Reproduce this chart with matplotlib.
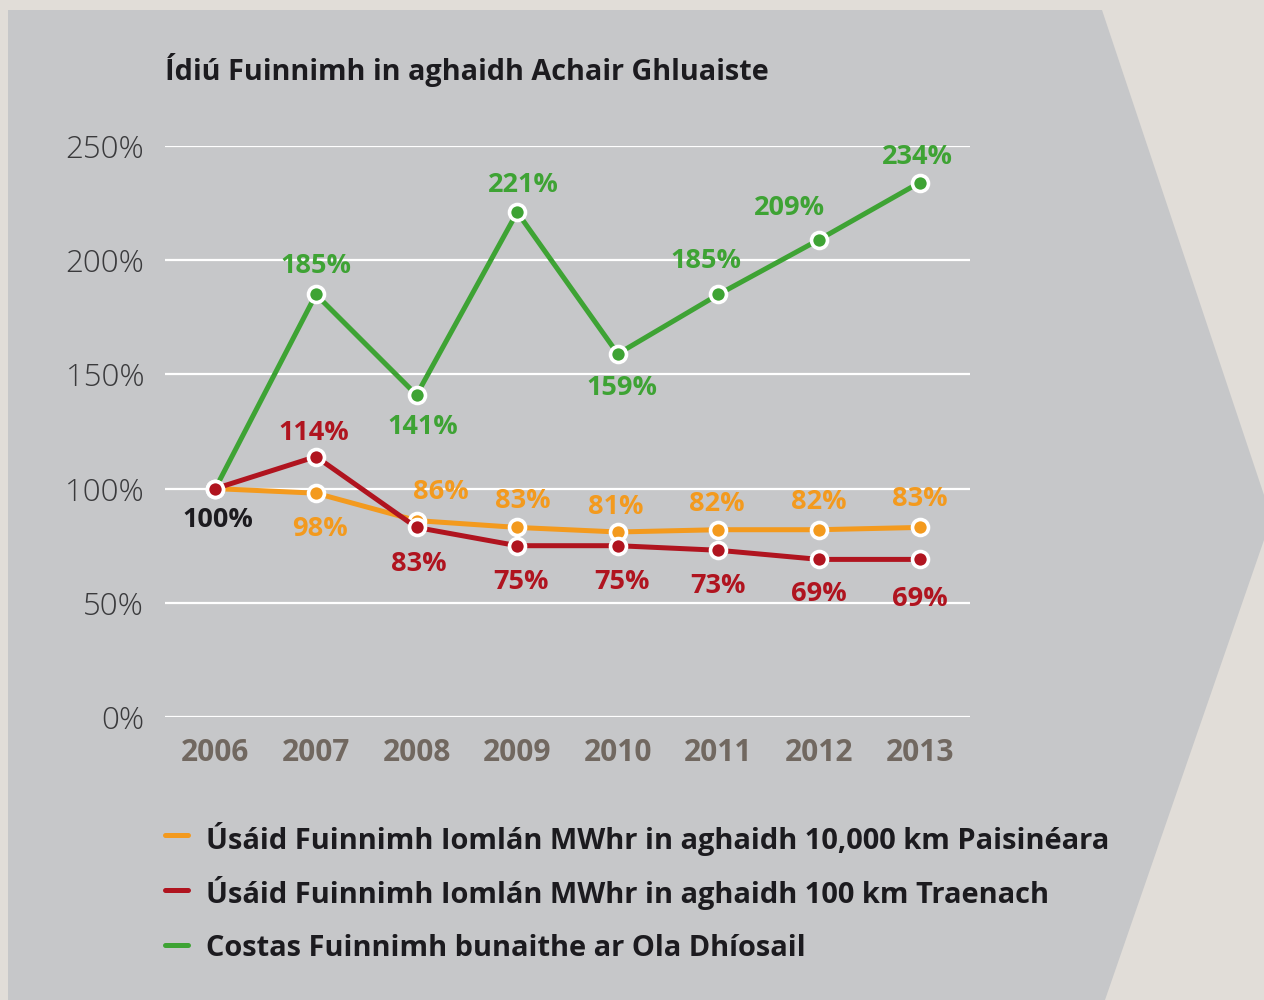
import matplotlib
matplotlib.use("Agg")
import matplotlib.pyplot as plt
from matplotlib.patches import Polygon
from matplotlib.lines import Line2D

# ---- data ----
years = [2006, 2007, 2008, 2009, 2010, 2011, 2012, 2013]
passenger = [100, 98, 86, 83, 81, 82, 82, 83]    # MWhr / 10,000 km paisinéara
train = [100, 114, 83, 75, 75, 73, 69, 69]       # MWhr / 100 km traenach
diesel_cost = [100, 185, 141, 221, 159, 185, 209, 234]

series_names = [
    "Úsáid Fuinnimh Iomlán MWhr in aghaidh 10,000 km Paisinéara",
    "Úsáid Fuinnimh Iomlán MWhr in aghaidh 100 km Traenach",
    "Costas Fuinnimh bunaithe ar Ola Dhíosail",
]
title = "Ídiú Fuinnimh in aghaidh Achair Ghluaiste"
yticks = [0, 50, 100, 150, 200, 250]

ORANGE = "#f39a1e"
RED = "#b0141f"
GREEN = "#3ea334"
DARK = "#1c1b1f"

# label offsets in pixels (dx, dy); None = no label
off_orange = [None, (4, -36), (24, 29), (6, 26), (-2, 25), (-2, 26), (0, 28), (0, 28)]
off_red = [None, (-2, 24), (2, -37), (4, -36), (4, -36), (0, -36), (0, -35), (0, -40)]
off_green = [None, (0, 28), (6, -32), (6, 27), (4, -34), (-12, 33), (-30, 32), (-2, 26)]

plt.rcParams["font.family"] = ["Open Sans", "DejaVu Sans"]

fig = plt.figure(figsize=(12.64, 10), dpi=100, facecolor="#e1ddd8")
# grey arrow-shaped panel
panel = Polygon([(8 / 1264, 1 - 10 / 1000), (1102 / 1264, 1 - 10 / 1000), (1.0, 1 - 495 / 1000),
                 (1.0, 1 - 540 / 1000), (1105 / 1264, 0.0), (8 / 1264, 0.0)],
                closed=True, transform=fig.transFigure, facecolor="#c6c7c9", edgecolor="none", zorder=-5)
fig.patches.append(panel)

ax = fig.add_axes([165 / 1264, 0.283, 805 / 1264, 0.571])
ax.set_facecolor("none")
ax.set_xlim(2005.5, 2013.5)
ax.set_ylim(0, 250)
for s in ax.spines.values():
    s.set_visible(False)
ax.set_yticks(yticks)
ax.set_yticklabels([f"{v}%" for v in yticks], fontsize=22.5, fontweight="light", color="#3a3a3c")
ax.set_xticks(years)
ax.set_xticklabels([str(y) for y in years], fontsize=21.5, fontweight="bold", color="#716860")
ax.tick_params(length=0)
ax.tick_params(axis="y", pad=15)
ax.tick_params(axis="x", pad=15)
ax.grid(axis="y", color="white", linewidth=1.6)
ax.set_axisbelow(True)

def draw(vals, color, z, offs):
    ax.plot(years, vals, color=color, linewidth=3.6, zorder=z,
            marker="o", markersize=11.5, markerfacecolor=color,
            markeredgecolor="white", markeredgewidth=2.6, clip_on=False)
    for x, v, o in zip(years, vals, offs):
        if o is None:
            continue
        ax.annotate(f"{v}%", (x, v), xytext=o, textcoords="offset pixels",
                    ha="center", va="center", fontsize=19.5, fontweight="bold", color=color, zorder=10)

draw(diesel_cost, GREEN, 3, off_green)
draw(passenger, ORANGE, 4, off_orange)
draw(train, RED, 5, off_red)
ax.annotate(f"{train[0]}%", (years[0], train[0]), xytext=(3, -31), textcoords="offset pixels",
            ha="center", va="center", fontsize=19.5, fontweight="bold", color=DARK)

fig.text(165 / 1264, 1 - 70 / 1000, title, fontsize=20.8, fontweight="bold", color=DARK,
         ha="left", va="center")

# legend, drawn row by row so the spacing stays even
for i, (name, c) in enumerate(zip(series_names, (ORANGE, RED, GREEN))):
    yy = 1 - (835 + 55 * i) / 1000
    fig.add_artist(Line2D([165 / 1264, 188 / 1264], [yy, yy], transform=fig.transFigure,
                          color=c, linewidth=3.6, solid_capstyle="round"))
    fig.text(206 / 1264, yy, name, fontsize=20.9, fontweight="bold", color=DARK,
             ha="left", va="center_baseline")

fig.savefig("out.png", dpi=100, facecolor=fig.get_facecolor())
